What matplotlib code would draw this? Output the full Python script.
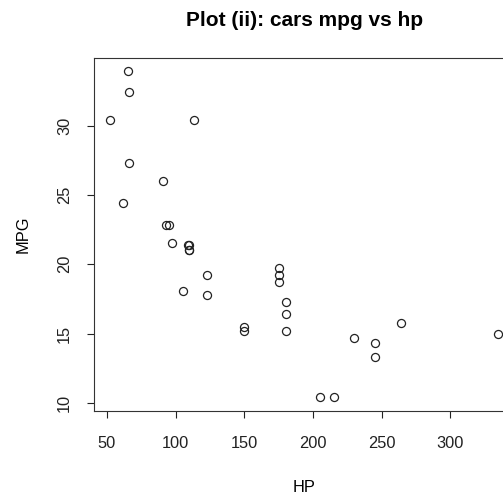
import numpy as np
import matplotlib
matplotlib.use("Agg")
import matplotlib.pyplot as plt

# mtcars: horsepower and miles per gallon
hp = [110, 110, 93, 110, 175, 105, 245, 62, 95, 123, 123, 180, 180, 180, 205, 215,
      230, 66, 52, 65, 97, 150, 150, 245, 175, 66, 91, 113, 264, 175, 335, 109]
mpg = [21.0, 21.0, 22.8, 21.4, 18.7, 18.1, 14.3, 24.4, 22.8, 19.2, 17.8, 16.4, 17.3,
       15.2, 10.4, 10.4, 14.7, 32.4, 30.4, 33.9, 21.5, 15.5, 15.2, 13.3, 19.2, 27.3,
       26.0, 30.4, 15.8, 19.7, 15.0, 21.4]
xticks = [50, 100, 150, 200, 250, 300]
yticks = [10, 15, 20, 25, 30]

plt.rcParams['font.family'] = ['Liberation Sans', 'DejaVu Sans']

fig = plt.figure(figsize=(5.03, 4.93), dpi=100)
# plot box runs past the right edge of the picture, as in the original
ax = fig.add_axes([0.1873, 0.1673, 0.8344, 0.7142])

ax.plot(hp, mpg, 'o', markerfacecolor='none', markeredgecolor='#222222',
        markersize=5.8, markeredgewidth=0.9, clip_on=False)

# R style 4% padding
xr = max(hp) - min(hp)
yr = max(mpg) - min(mpg)
ax.set_xlim(min(hp) - 0.04 * xr, max(hp) + 0.04 * xr)
ax.set_ylim(min(mpg) - 0.04 * yr, max(mpg) + 0.04 * yr)

ax.set_xticks(xticks)
ax.set_yticks(yticks)
ax.set_yticklabels([str(v) for v in yticks], rotation=90, va='center')
ax.tick_params(axis='both', length=5, width=0.8, labelsize=11.8, colors='#222222')
ax.tick_params(axis='x', pad=13.5)
ax.tick_params(axis='y', pad=11)
for s in ax.spines.values():
    s.set_linewidth(0.8)
    s.set_color('#333333')

ax.set_xlabel('HP', fontsize=11.8, va='center')
ax.set_ylabel('MPG', fontsize=11.8, va='center')
ax.xaxis.set_label_coords(0.5, -0.2173)
ax.yaxis.set_label_coords(-0.1696, 0.5)
# title centred over the plot box (R style), not the figure
ax.text(0.5, 1 + 32.5 / 352.1, 'Plot (ii): cars mpg vs hp', transform=ax.transAxes,
        ha='center', va='baseline', fontsize=15, fontweight='bold')

fig.savefig('out.png', dpi=100)
